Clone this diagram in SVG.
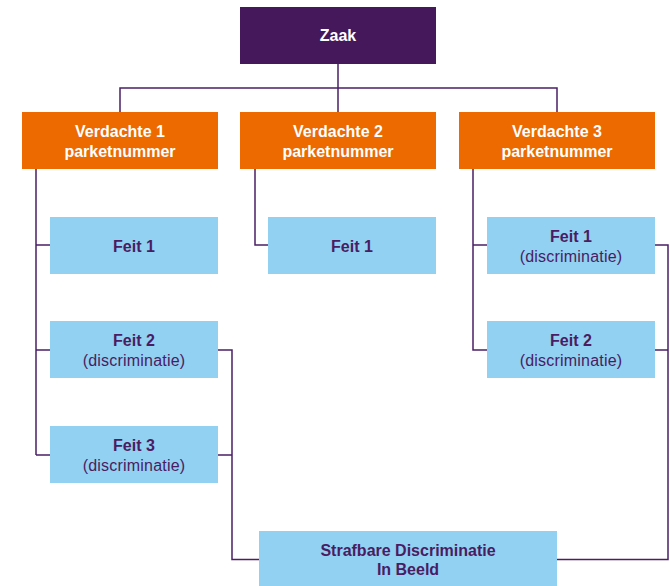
<svg xmlns="http://www.w3.org/2000/svg" width="670" height="586" viewBox="0 0 670 586">
<style>
.zaak{fill:#45185b}
.verd{fill:#ec6a00}
.feit{fill:#92d1f1}
.tw{fill:#ffffff;font-family:"Liberation Sans",Arial,sans-serif;font-weight:bold;font-size:16px;text-anchor:middle}
.tb{fill:#4a1c62;font-family:"Liberation Sans",Arial,sans-serif;font-weight:bold;font-size:16px;text-anchor:middle}
.tr{fill:#4a1c62;font-family:"Liberation Sans",Arial,sans-serif;font-size:16px;text-anchor:middle;letter-spacing:0.2px}
.con{fill:none;stroke:#4b1f66;stroke-width:1.5}
</style>
<rect width="670" height="586" fill="#ffffff"/>
<g id="connectors" class="con">
<path d="M338,64V112M120,112V88H557V112"/>
<path d="M36,169V455M36,245H50M36,350H50M36,455H50"/>
<path d="M255,169V245H268"/>
<path d="M473,169V350H487M473,245H487"/>
<path d="M218,350H232V559.5H259M218,455H232"/>
<path d="M655,245H668V559.5H557M655,350H668"/>
</g>
<g id="zaak"><rect class="zaak" x="240" y="7" width="196" height="57"/><text class="tw" x="338" y="41">Zaak</text></g>
<g id="verdachte1"><rect class="verd" x="22" y="112" width="196" height="57"/><text class="tw" x="120" y="137">Verdachte 1</text><text class="tw" x="120" y="157">parketnummer</text></g>
<g id="verdachte2"><rect class="verd" x="240" y="112" width="196" height="57"/><text class="tw" x="338" y="137">Verdachte 2</text><text class="tw" x="338" y="157">parketnummer</text></g>
<g id="verdachte3"><rect class="verd" x="459" y="112" width="196" height="57"/><text class="tw" x="557" y="137">Verdachte 3</text><text class="tw" x="557" y="157">parketnummer</text></g>
<g id="v1feit1"><rect class="feit" x="50" y="217" width="168" height="57"/><text class="tb" x="134" y="252">Feit 1</text></g>
<g id="v1feit2"><rect class="feit" x="50" y="321" width="168" height="57"/><text class="tb" x="134" y="346">Feit 2</text><text class="tr" x="134" y="366">(discriminatie)</text></g>
<g id="v1feit3"><rect class="feit" x="50" y="426" width="168" height="57"/><text class="tb" x="134" y="451">Feit 3</text><text class="tr" x="134" y="471">(discriminatie)</text></g>
<g id="v2feit1"><rect class="feit" x="268" y="217" width="168" height="57"/><text class="tb" x="352" y="252">Feit 1</text></g>
<g id="v3feit1"><rect class="feit" x="487" y="217" width="168" height="57"/><text class="tb" x="571" y="242">Feit 1</text><text class="tr" x="571" y="262">(discriminatie)</text></g>
<g id="v3feit2"><rect class="feit" x="487" y="321" width="168" height="57"/><text class="tb" x="571" y="346">Feit 2</text><text class="tr" x="571" y="366">(discriminatie)</text></g>
<g id="sdib"><rect class="feit" x="259" y="531" width="298" height="55"/><text class="tb" x="408" y="556">Strafbare Discriminatie</text><text class="tb" x="408" y="575">In Beeld</text></g>
</svg>
